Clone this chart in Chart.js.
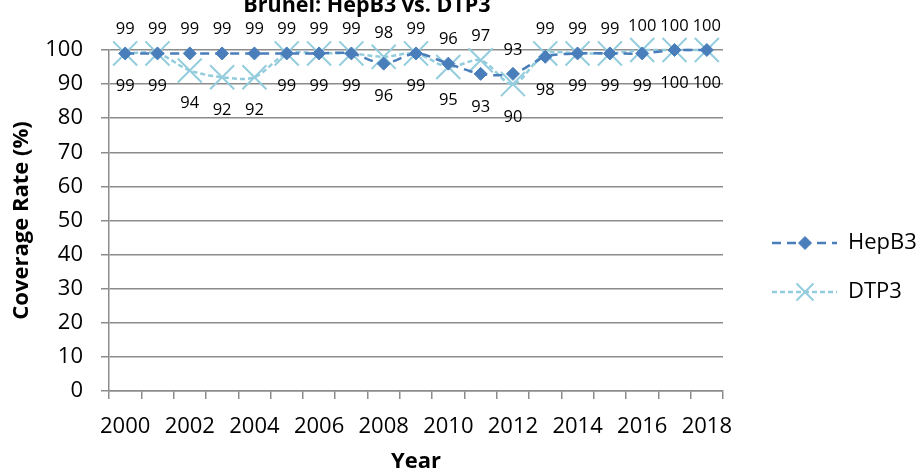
<!DOCTYPE html>
<html><head><meta charset="utf-8">
<script src="https://cdn.jsdelivr.net/npm/chart.js@4.4.0/dist/chart.umd.min.js"></script>
<style>html,body{margin:0;padding:0;background:#fff}#wrap{width:922px;height:475px;position:relative}</style>
</head><body><div id="wrap"><canvas id="c" width="922" height="475"></canvas></div>
<script>
const chartTitle = 'Brunei: HepB3 vs. DTP3';
const xTitle = 'Year';
const yTitle = 'Coverage Rate (%)';
const years = ['2000','2001','2002','2003','2004','2005','2006','2007','2008','2009','2010','2011','2012','2013','2014','2015','2016','2017','2018'];
const seriesNames = ['HepB3', 'DTP3'];
const hepB3 = [99,99,99,99,99,99,99,99,96,99,96,93,93,98,99,99,99,100,100];
const dtp3  = [99,99,94,92,92,99,99,99,98,99,95,97,90,99,99,99,100,100,100];
const yMin = 0, yMax = 100, yStep = 10;

const FONT = 'Open Sans';
const BLUE = '#4A7EBB';
const LIGHT = '#93CDDD';
const GRID = '#8c8c8c';

const labelPlugin = {
  id: 'labels',
  afterDatasetsDraw(chart) {
    const ctx = chart.ctx;
    const m0 = chart.getDatasetMeta(0), m1 = chart.getDatasetMeta(1);
    ctx.save();
    ctx.font = '16.5px "' + FONT + '"';
    ctx.fillStyle = '#000';
    ctx.textAlign = 'center';
    ctx.textBaseline = 'middle';
    for (let i = 0; i < years.length; i++) {
      const h = hepB3[i], d = dtp3[i];
      const hAbove = h >= d;
      const p0 = m0.data[i], p1 = m1.data[i];
      ctx.fillText(String(h), p0.x, p0.y + (hAbove ? -24 : 33));
      ctx.fillText(String(d), p1.x, p1.y + (hAbove ? 33 : -24));
    }
    ctx.restore();
  },
  afterDraw(chart) {
    const ctx = chart.ctx;
    ctx.save();
    // title (partly cut off at the top, as in the reference)
    ctx.font = 'bold 21.5px "' + FONT + '"';
    ctx.fillStyle = '#000';
    ctx.textAlign = 'center';
    ctx.textBaseline = 'alphabetic';
    ctx.fillText(chartTitle, 367, 11.5);
    // legend
    const items = [
      {name: seriesNames[0], color: BLUE, dash: [9, 6], style: 'rectRot', r: 6.5, y: 243},
      {name: seriesNames[1], color: LIGHT, dash: [5, 3], style: 'crossRot', r: 12, y: 292}
    ];
    items.forEach(it => {
      ctx.save();
      ctx.strokeStyle = it.color;
      ctx.lineWidth = 2.5;
      ctx.setLineDash(it.dash);
      ctx.beginPath();
      ctx.moveTo(772, it.y);
      ctx.lineTo(837, it.y);
      ctx.stroke();
      ctx.setLineDash([]);
      ctx.fillStyle = it.color;
      ctx.lineWidth = it.style === 'crossRot' ? 2 : 1;
      Chart.helpers.drawPoint(ctx, {pointStyle: it.style, radius: it.r, rotation: 0, borderWidth: ctx.lineWidth}, 805, it.y);
      ctx.restore();
      ctx.font = '22px "' + FONT + '"';
      ctx.fillStyle = '#000';
      ctx.textAlign = 'left';
      ctx.textBaseline = 'middle';
      ctx.fillText(it.name, 848, it.y);
    });
    ctx.restore();
  }
};

new Chart(document.getElementById('c'), {
  type: 'line',
  data: {
    labels: years,
    datasets: [
      {label: seriesNames[0], data: hepB3, borderColor: BLUE, backgroundColor: BLUE, borderWidth: 2.5, borderDash: [9, 6],
       pointStyle: 'rectRot', pointRadius: 6.5, pointBorderWidth: 1, pointBorderColor: BLUE, pointBackgroundColor: BLUE,
       tension: 0.3, fill: false, clip: false},
      {label: seriesNames[1], data: dtp3, borderColor: LIGHT, backgroundColor: LIGHT, borderWidth: 2.5, borderDash: [5, 3],
       pointStyle: 'crossRot', pointRadius: 17, pointBorderWidth: 2, pointBorderColor: LIGHT,
       tension: 0.3, fill: false, clip: false}
    ]
  },
  options: {
    responsive: false,
    animation: false,
    devicePixelRatio: 1,
    layout: {padding: {left: 0, right: 199, top: 50, bottom: 0}},
    plugins: {legend: {display: false}, title: {display: false}, tooltip: {enabled: false}},
    scales: {
      x: {
        type: 'category', offset: true,
        grid: {display: true, drawOnChartArea: false, offset: true, tickLength: 8, color: GRID, lineWidth: 1.5},
        border: {display: true, color: GRID, width: 1.5},
        ticks: {autoSkip: false, maxRotation: 0, minRotation: 0, padding: 15, color: '#000', font: {family: FONT, size: 22},
          callback: (v, i) => (i % 2 === 0 ? years[i] : '')},
        title: {display: true, text: xTitle, color: '#000', font: {family: FONT, size: 22, weight: 'bold'}, padding: {top: 0, bottom: 0}},
        afterFit: s => { s.height = 84; }
      },
      y: {
        min: yMin, max: yMax,
        grid: {color: GRID, lineWidth: 1.5, tickLength: 8},
        border: {display: true, color: GRID, width: 1.5},
        ticks: {stepSize: yStep, padding: 18, color: '#000', font: {family: FONT, size: 22}},
        title: {display: true, text: yTitle, color: '#000', font: {family: FONT, size: 22, weight: 'bold'}, padding: {top: 9, bottom: 0}},
        afterFit: s => { s.width = 109; }
      }
    }
  },
  plugins: [labelPlugin]
});
</script>
</body></html>
